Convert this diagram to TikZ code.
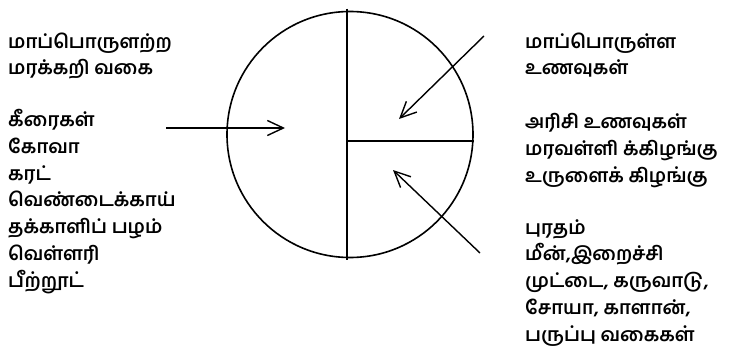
\documentclass[tikz,border=0pt]{standalone}
\usepackage{fontspec}
\IfFontExistsTF{Hind Madurai SemiBold}
  {\newfontfamily\tamil[Script=Tamil]{Hind Madurai SemiBold}}
  {\newfontfamily\tamil[Script=Tamil, FakeBold=4]{Hind Madurai}}
\usetikzlibrary{arrows.meta, positioning}

\begin{document}
\begin{tikzpicture}[
  x=1pt, y=1pt,
  label/.style={
    font=\tamil\fontsize{19}{26.7}\selectfont,
    align=left, anchor=base west, inner sep=0pt
  },
  pointer/.style={-{Straight Barb[length=16pt, width=15pt, line width=1.4pt]}, line width=1.4pt}
]
\useasboundingbox (0,0) rectangle (745,349);

% Pie
\node[circle, draw, line width=1.6pt, minimum size=246pt, inner sep=0pt] (pie) at (350,214.5) {};
\draw[line width=1.6pt] ([xshift=-3pt, yshift=2pt]pie.north) -- ([xshift=-3pt, yshift=-2pt]pie.south);
\draw[line width=1.6pt] ([xshift=-3pt, yshift=-6.5pt]pie.center) -- ([yshift=-6.5pt]pie.east);

% Left side (anchored on last line)
\node[label] (nostarch) at (8,274) {மாப்பொருளற்ற\\மரக்கறி வகை};
\node[label] (veglist) at (8,62) {கீரைகள்\\கோவா\\கரட்\\வெண்டைக்காய்\\தக்காளிப் பழம்\\வெள்ளரி\\பீற்றூட்};

% Right side
\node[label] (starch) at (525,274) {மாப்பொருள்ள\\உணவுகள்};
\node[label] (starchlist) at (525,167) {அரிசி உணவுகள்\\மரவள்ளி க்கிழங்கு\\உருளைக் கிழங்கு};
\node[label] (protein) at (525,8) {புரதம்\\மீன்,இறைச்சி\\முட்டை, கருவாடு,\\சோயா, காளான்,\\பருப்பு வகைகள்};

% Arrows
\coordinate (vegtail) at (166,221);
\coordinate (vegtip) at (285,221);
\coordinate (starchtail) at (484,313);
\coordinate (starchtip) at (399,230);
\coordinate (proteintail) at (480,96);
\coordinate (proteintip) at (393,179);
\draw[pointer] (vegtail) -- (vegtip);
\draw[pointer] (starchtail) -- (starchtip);
\draw[pointer] (proteintail) -- (proteintip);

\end{tikzpicture}
\end{document}
